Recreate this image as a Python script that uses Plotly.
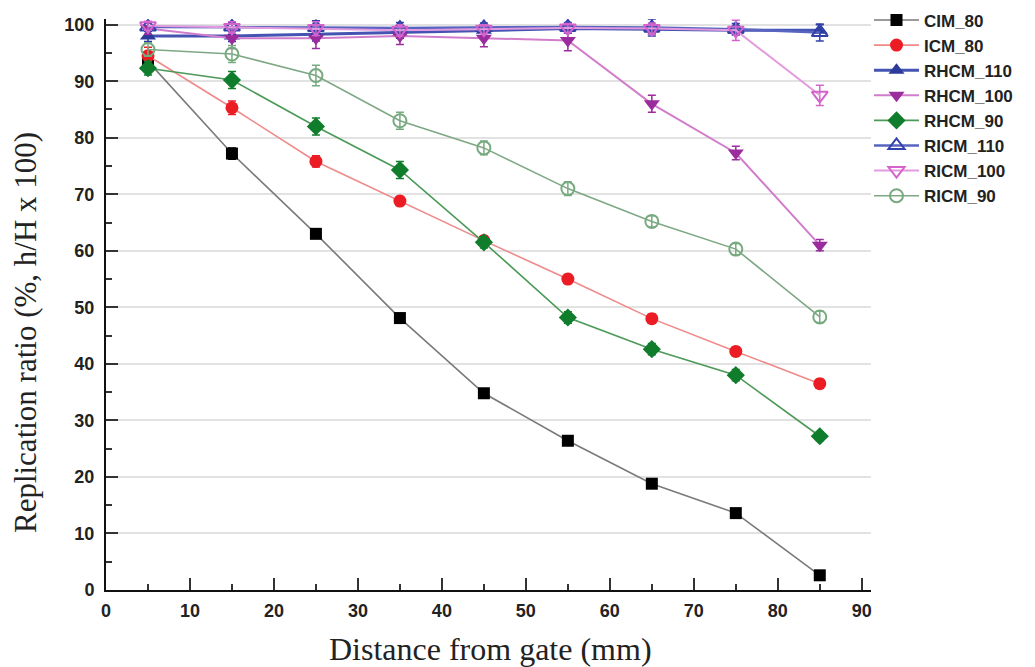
import plotly.graph_objects as go

x = [5, 15, 25, 35, 45, 55, 65, 75, 85]

names = ["CIM_80", "ICM_80", "RHCM_110", "RHCM_100", "RHCM_90", "RICM_110", "RICM_100", "RICM_90"]

cim_80 = [93.5, 77.2, 63.0, 48.1, 34.8, 26.4, 18.8, 13.6, 2.6]
icm_80 = [94.5, 85.3, 75.8, 68.8, 61.8, 55.0, 48.0, 42.2, 36.5]
rhcm_110 = [98.0, 98.0, 98.3, 98.6, 99.0, 99.3, 99.2, 99.0, 99.0]
rhcm_100 = [99.3, 97.6, 97.6, 98.0, 97.6, 97.2, 86.0, 77.3, 61.0]
rhcm_90 = [92.3, 90.2, 82.0, 74.3, 61.5, 48.2, 42.6, 38.0, 27.2]
ricm_110 = [99.6, 99.6, 99.5, 99.4, 99.5, 99.6, 99.5, 99.2, 98.6]
ricm_100 = [99.8, 99.5, 99.3, 99.0, 99.2, 99.4, 99.3, 99.0, 87.5]
ricm_90 = [95.6, 94.8, 91.0, 83.0, 78.2, 71.0, 65.2, 60.3, 48.3]

err_cim_80 = [1.5, 1.0, 0.8, 0.8, 0.6, 0.6, 0.6, 0.6, 0.6]
err_icm_80 = [1.5, 1.2, 1.0, 0.8, 0.8, 0.8, 0.8, 0.8, 0.8]
err_rhcm_110 = [1.0, 1.0, 1.2, 1.0, 1.0, 0.8, 0.8, 0.8, 1.0]
err_rhcm_100 = [1.0, 1.8, 1.8, 1.5, 1.5, 1.8, 1.5, 1.2, 1.0]
err_rhcm_90 = [1.2, 1.5, 1.5, 1.5, 1.0, 1.0, 1.0, 1.0, 0.8]
err_ricm_110 = [0.8, 0.8, 1.2, 1.0, 0.8, 0.8, 1.5, 1.0, 1.5]
err_ricm_100 = [0.8, 1.0, 1.2, 1.0, 0.8, 0.8, 1.0, 1.8, 1.8]
err_ricm_90 = [1.2, 1.5, 1.8, 1.5, 1.2, 1.2, 1.0, 1.0, 1.0]

values = [cim_80, icm_80, rhcm_110, rhcm_100, rhcm_90, ricm_110, ricm_100, ricm_90]
errors = [err_cim_80, err_icm_80, err_rhcm_110, err_rhcm_100, err_rhcm_90,
          err_ricm_110, err_ricm_100, err_ricm_90]

styles = [
    dict(symbol="square", mcolor="#000000", lcolor="#7a7a7a", lw=1.6, size=12, open=False),
    dict(symbol="circle", mcolor="#ec1c24", lcolor="#ee8a8a", lw=1.6, size=13, open=False),
    dict(symbol="triangle-up", mcolor="#2c3a9c", lcolor="#4553b2", lw=3.0, size=14, open=False),
    dict(symbol="triangle-down", mcolor="#9a2c9e", lcolor="#d27ccc", lw=2.0, size=14, open=False),
    dict(symbol="diamond", mcolor="#0f7d2c", lcolor="#4c9a58", lw=1.6, size=14, open=False),
    dict(symbol="triangle-up-open", mcolor="#3242aa", lcolor="#5864c0", lw=2.5, size=14, open=True),
    dict(symbol="triangle-down-open", mcolor="#d464cc", lcolor="#e39ade", lw=2.0, size=14, open=True),
    dict(symbol="circle-open", mcolor="#78aa80", lcolor="#7ea884", lw=1.6, size=13, open=True),
]

fig = go.Figure()
for name, yv, ev, st in zip(names, values, errors, styles):
    fig.add_trace(go.Scatter(
        x=x, y=yv, name=name, mode="lines+markers",
        line=dict(color=st["lcolor"], width=st["lw"]),
        marker=dict(symbol=st["symbol"], size=st["size"], color=st["mcolor"],
                    line=dict(color=st["mcolor"], width=2 if st["open"] else 0)),
        error_y=dict(type="data", array=ev, visible=True, color=st["mcolor"],
                     thickness=1.5, width=4),
    ))

tickfont = dict(family="Liberation Sans Narrow, Liberation Sans, Arial", size=18,
                color="#222222", weight="bold")

fig.update_layout(
    width=1027, height=659,
    margin=dict(l=98, r=164, t=11, b=77, autoexpand=False),
    paper_bgcolor="white", plot_bgcolor="white",
    showlegend=True,
    legend=dict(x=(869 - 8 - 98) / 765, xanchor="left", y=1.029, yanchor="top",
                itemwidth=45,
                font=dict(family="Liberation Sans Narrow, Liberation Sans, Arial",
                          size=17, color="#222222", weight="bold"),
                bgcolor="rgba(0,0,0,0)", tracegroupgap=0),
    xaxis=dict(range=[0, 91.1], tickvals=[0, 10, 20, 30, 40, 50, 60, 70, 80, 90],
               showgrid=False, zeroline=False, showline=True, linecolor="#111111",
               linewidth=2, ticks="inside", ticklen=12, tickwidth=2, tickcolor="#333333",
               minor=dict(dtick=5, ticks="inside", ticklen=6, tickwidth=2, tickcolor="#333333"),
               tickfont=tickfont, ticklabelstandoff=3),
    yaxis=dict(range=[0, 101], tickvals=[0, 10, 20, 30, 40, 50, 60, 70, 80, 90, 100],
               showgrid=True, gridcolor="#e2e2e2", gridwidth=1.5, zeroline=False,
               showline=True, linecolor="#111111", linewidth=2,
               ticks="inside", ticklen=12, tickwidth=2, tickcolor="#333333",
               minor=dict(dtick=5, ticks="inside", ticklen=6, tickwidth=2, tickcolor="#333333",
                          showgrid=False),
               tickfont=tickfont, ticklabelstandoff=6),
    annotations=[
        dict(text="Distance from gate (mm)", xref="paper", yref="paper",
             x=0.503, y=-0.103, xanchor="center", yanchor="middle", showarrow=False,
             font=dict(family="Liberation Serif, Times New Roman, serif", size=32, color="#222222")),
        dict(text="Replication ratio (%, h/H x 100)", xref="paper", yref="paper",
             x=(25 - 8 - 98) / 765, y=0.45, xanchor="center", yanchor="middle", showarrow=False,
             textangle=-90,
             font=dict(family="Liberation Serif, Times New Roman, serif", size=31, color="#222222")),
    ],
)

fig.write_html("out.html")
